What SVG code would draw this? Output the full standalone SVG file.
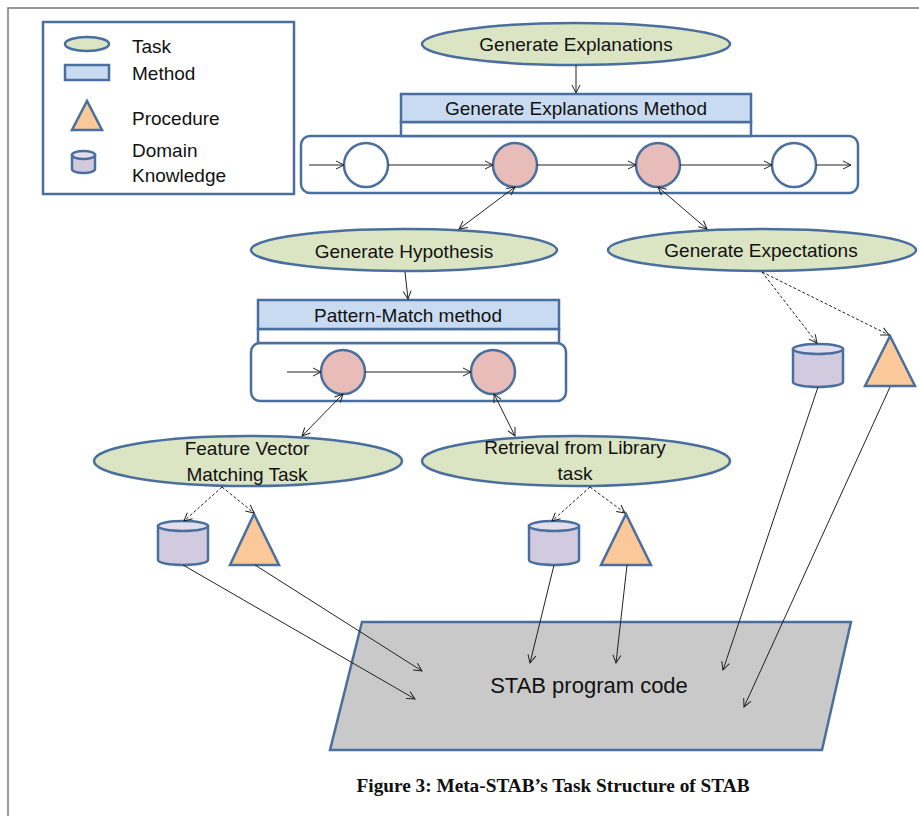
<svg xmlns="http://www.w3.org/2000/svg" width="919" height="816" viewBox="0 0 919 816">
<defs>
<marker id="ah" markerUnits="userSpaceOnUse" markerWidth="12" markerHeight="12" refX="9" refY="5" orient="auto-start-reverse" viewBox="0 0 12 10">
<path d="M1,1 L9,5 L1,9" fill="none" stroke="#222" stroke-width="1"/>
</marker>
<style>
.task{fill:#dce5c3;stroke:#4a6f9e;stroke-width:2.5}
.meth{fill:#c9dbf1;stroke:#4a6f9e;stroke-width:2.5}
.box{fill:#fff;stroke:#4a6f9e;stroke-width:2.5}
.pink{fill:#e8bdb9;stroke:#4a6f9e;stroke-width:2.5}
.wc{fill:#fff;stroke:#4a6f9e;stroke-width:2.5}
.cyl{fill:#d2cbe0;stroke:#4a6f9e;stroke-width:2.5}
.cyltop{fill:#e3deee;stroke:#4a6f9e;stroke-width:2.5}
.tri{fill:#fbc89a;stroke:#4a6f9e;stroke-width:2.5}
.t{font-family:"Liberation Sans",Arial,sans-serif;font-size:19px;fill:#111}
.c{text-anchor:middle}
.ln{stroke:#222;stroke-width:1;fill:none;marker-end:url(#ah)}
.dl{stroke:#222;stroke-width:1;fill:none;marker-start:url(#ah);marker-end:url(#ah)}
.ds{stroke:#222;stroke-width:1;fill:none;stroke-dasharray:3,2;marker-end:url(#ah)}
</style>
</defs>
<rect width="919" height="816" fill="#fff"/>
<path d="M8,816 L8,8 L919,8" fill="none" stroke="#777" stroke-width="1.5"/>

<g id="legend">
<rect x="43" y="22" width="251" height="172" fill="#fff" stroke="#4a6f9e" stroke-width="2.5"/>
<ellipse cx="87" cy="44" rx="22" ry="7" class="task"/>
<rect x="65" y="65" width="44" height="15" class="meth"/>
<polygon points="87,101 72,130 102,130" class="tri"/>
<path d="M72,155 L72,169 A11.5,4 0 0 0 95,169 L95,155 Z" class="cyl"/>
<ellipse cx="83.5" cy="155" rx="11.5" ry="4" class="cyltop"/>
<text x="132" y="53" class="t">Task</text>
<text x="132" y="80" class="t">Method</text>
<text x="132" y="125" class="t">Procedure</text>
<text x="132" y="157" class="t">Domain</text>
<text x="132" y="182" class="t">Knowledge</text>
</g>

<g id="genExplanations">
<ellipse cx="576" cy="44" rx="154" ry="21" class="task"/>
<text x="576" y="51" class="t c">Generate Explanations</text>
</g>

<g id="genExplanationsMethod">
<rect x="301" y="136" width="557" height="57" rx="9" class="box"/>
<rect x="401" y="122" width="350" height="14" class="box"/>
<rect x="401" y="94" width="350" height="28" class="meth"/>
<text x="576" y="115" class="t c">Generate Explanations Method</text>
<circle cx="366" cy="165" r="22" class="wc"/>
<circle cx="515" cy="165" r="22" class="pink"/>
<circle cx="658" cy="165" r="22" class="pink"/>
<circle cx="794" cy="165" r="22" class="wc"/>
</g>

<g id="genHypothesis">
<ellipse cx="404" cy="250" rx="153" ry="21" class="task"/>
<text x="404" y="258" class="t c">Generate Hypothesis</text>
</g>

<g id="genExpectations">
<ellipse cx="762" cy="250" rx="154" ry="21" class="task"/>
<text x="761" y="257" class="t c">Generate Expectations</text>
</g>

<g id="patternMatchMethod">
<rect x="251" y="343" width="315" height="58" rx="9" class="box"/>
<rect x="258" y="329" width="301" height="14" class="box"/>
<rect x="258" y="300" width="301" height="29" class="meth"/>
<text x="408" y="322" class="t c">Pattern-Match method</text>
<circle cx="343" cy="372" r="22" class="pink"/>
<circle cx="493" cy="372" r="22" class="pink"/>
</g>

<g id="featureVector">
<ellipse cx="248" cy="461" rx="154" ry="25" class="task"/>
<text x="247" y="455" class="t c">Feature Vector</text>
<text x="247" y="481" class="t c">Matching Task</text>
</g>

<g id="retrieval">
<ellipse cx="576" cy="461" rx="154" ry="25" class="task"/>
<text x="575" y="454" class="t c">Retrieval from Library</text>
<text x="575" y="480" class="t c">task</text>
</g>

<g id="fvKnowledge">
<path d="M158,526 L158,560 A25,5 0 0 0 208,560 L208,526 Z" class="cyl"/>
<ellipse cx="183" cy="526" rx="25" ry="5" class="cyltop"/>
</g>
<g id="fvProcedure">
<polygon points="254,514 230,565 279,565" class="tri"/>
</g>
<g id="rlKnowledge">
<path d="M529,526 L529,560 A25,5 0 0 0 579,560 L579,526 Z" class="cyl"/>
<ellipse cx="554" cy="526" rx="25" ry="5" class="cyltop"/>
</g>
<g id="rlProcedure">
<polygon points="626,514 601,565 651,565" class="tri"/>
</g>
<g id="geKnowledge">
<path d="M793,349 L793,382 A25,5 0 0 0 843,382 L843,349 Z" class="cyl"/>
<ellipse cx="818" cy="349" rx="25" ry="5" class="cyltop"/>
</g>
<g id="geProcedure">
<polygon points="890,336 865,386 915,386" class="tri"/>
</g>

<g id="stabCode">
<polygon points="362,622 851,622 822,750 330,750" fill="#c9c9c9" stroke="#4a6f9e" stroke-width="2.5"/>
<text x="589" y="693" class="t c" style="font-size:22px">STAB program code</text>
</g>

<g id="connectors">
<line x1="576" y1="65" x2="576" y2="93" class="ln"/>
<line x1="309" y1="165" x2="344" y2="165" class="ln"/>
<line x1="388" y1="165" x2="493" y2="165" class="ln"/>
<line x1="537" y1="165" x2="636" y2="165" class="ln"/>
<line x1="680" y1="165" x2="772" y2="165" class="ln"/>
<line x1="816" y1="165" x2="851" y2="165" class="ln"/>
<line x1="515" y1="187" x2="459" y2="229" class="dl"/>
<line x1="658" y1="187" x2="707" y2="229" class="dl"/>
<line x1="405" y1="272" x2="408" y2="299" class="ln"/>
<line x1="287" y1="372" x2="321" y2="372" class="ln"/>
<line x1="365" y1="372" x2="471" y2="372" class="ln"/>
<line x1="343" y1="394" x2="302" y2="436" class="dl"/>
<line x1="494" y1="394" x2="515" y2="436" class="dl"/>
<line x1="222" y1="487" x2="184" y2="521" class="ds"/>
<line x1="222" y1="487" x2="254" y2="513" class="ds"/>
<line x1="590" y1="487" x2="552" y2="521" class="ds"/>
<line x1="590" y1="487" x2="625" y2="513" class="ds"/>
<line x1="762" y1="272" x2="817" y2="343" class="ds"/>
<line x1="762" y1="272" x2="889" y2="335" class="ds"/>
<line x1="183" y1="565" x2="415" y2="699" class="ln"/>
<line x1="255" y1="565" x2="422" y2="671" class="ln"/>
<line x1="554" y1="565" x2="530" y2="663" class="ln"/>
<line x1="627" y1="565" x2="616" y2="663" class="ln"/>
<line x1="818" y1="387" x2="723" y2="670" class="ln"/>
<line x1="890" y1="387" x2="744" y2="707" class="ln"/>
</g>

<text x="553" y="792" text-anchor="middle" font-family="'Liberation Serif','Times New Roman',serif" font-weight="bold" font-size="19" textLength="393" lengthAdjust="spacingAndGlyphs" fill="#111">Figure 3: Meta-STAB’s Task Structure of STAB</text>
</svg>
